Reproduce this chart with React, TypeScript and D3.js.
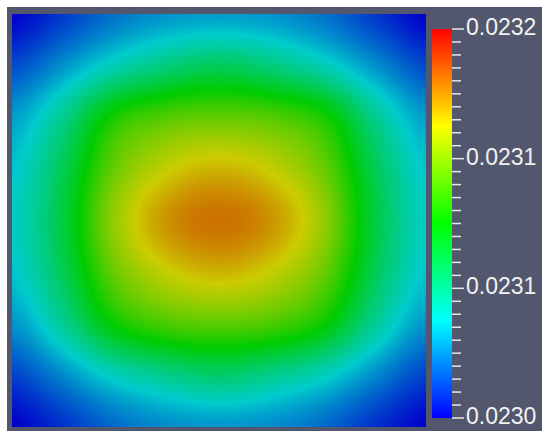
import React, { useMemo } from "react";
import * as d3 from "d3";

// Colour range of the scalar field (colour bar limits)
const rangeMin = 0.023;
const rangeMax = 0.0232;
const majorTickCount = 4;
const minorPerMajor = 10;

// Scalar field sampled on a 9 x 9 grid (rows top -> bottom, columns left -> right)
const row0 = [0.023, 0.023014, 0.023028, 0.023036, 0.023038, 0.023036, 0.023028, 0.023014, 0.023];
const row1 = [0.023018, 0.023036, 0.023056, 0.02307, 0.023078, 0.02307, 0.023056, 0.023036, 0.023018];
const row2 = [0.023038, 0.023066, 0.023106, 0.02312, 0.023124, 0.02312, 0.023106, 0.023066, 0.023038];
const row3 = [0.023048, 0.02308, 0.023126, 0.023148, 0.023156, 0.023148, 0.023126, 0.02308, 0.023048];
const row4 = [0.023052, 0.023085, 0.023137, 0.023164, 0.023172, 0.023164, 0.023137, 0.023085, 0.023052];
const row5 = [0.023048, 0.02308, 0.023126, 0.023148, 0.023156, 0.023148, 0.023126, 0.02308, 0.023048];
const row6 = [0.023036, 0.023064, 0.023102, 0.023118, 0.023122, 0.023118, 0.023102, 0.023064, 0.023036];
const row7 = [0.023016, 0.023034, 0.023054, 0.023066, 0.023074, 0.023066, 0.023054, 0.023034, 0.023016];
const row8 = [0.023, 0.023012, 0.023026, 0.023034, 0.023036, 0.023034, 0.023026, 0.023012, 0.023];
const field = [row0, row1, row2, row3, row4, row5, row6, row7, row8];

const W = 550;
const H = 441;
const panel = { x: 7, y: 7, w: 535, h: 424 };
const plot = { x0: 12, x1: 426, y0: 14, y1: 427 };
const bar = { x: 432, w: 20, y0: 29, y1: 418 };

function hsvToRgb(h: number, s: number, v: number): [number, number, number] {
  const c = v * s;
  const hp = (h % 360) / 60;
  const x = c * (1 - Math.abs((hp % 2) - 1));
  let r = 0, g = 0, b = 0;
  if (hp < 1) { r = c; g = x; }
  else if (hp < 2) { r = x; g = c; }
  else if (hp < 3) { g = c; b = x; }
  else if (hp < 4) { g = x; b = c; }
  else if (hp < 5) { r = x; b = c; }
  else { r = c; b = x; }
  const m = v - c;
  return [(r + m) * 255, (g + m) * 255, (b + m) * 255];
}

const tScale = d3.scaleLinear().domain([rangeMin, rangeMax]).range([0, 1]).clamp(true);
const rainbow = (t: number, bright = 1) => hsvToRgb(240 * (1 - t), 1, bright);

function cubic(p0: number, p1: number, p2: number, p3: number, t: number) {
  return (
    p1 +
    0.5 * t * (p2 - p0 + t * (2 * p0 - 5 * p1 + 4 * p2 - p3 + t * (3 * (p1 - p2) + p3 - p0)))
  );
}

function sampleField(gx: number, gy: number) {
  const n = field.length;
  const m = field[0].length;
  const ix = Math.min(Math.floor(gx), m - 2);
  const iy = Math.min(Math.floor(gy), n - 2);
  const fx = gx - ix;
  const fy = gy - iy;
  const cl = (v: number, hi: number) => Math.max(0, Math.min(hi, v));
  const rows: number[] = [];
  for (let k = -1; k <= 2; k++) {
    const r = field[cl(iy + k, n - 1)];
    rows.push(cubic(r[cl(ix - 1, m - 1)], r[ix], r[ix + 1], r[cl(ix + 2, m - 1)], fx));
  }
  return cubic(rows[0], rows[1], rows[2], rows[3], fy);
}

export default function App() {
  const xScale = d3.scaleLinear().domain([0, field[0].length - 1]).range([plot.x0, plot.x1]);
  const yScale = d3.scaleLinear().domain([0, field.length - 1]).range([plot.y0, plot.y1]);
  const barScale = d3.scaleLinear().domain([rangeMin, rangeMax]).range([bar.y1, bar.y0]);
  const fmt = d3.format(".4f");

  const url = useMemo(() => {
    const pw = Math.round(plot.x1 - plot.x0);
    const ph = Math.round(plot.y1 - plot.y0);
    const canvas = document.createElement("canvas");
    canvas.width = pw;
    canvas.height = ph;
    const ctx = canvas.getContext("2d");
    if (!ctx) return "";
    const img = ctx.createImageData(pw, ph);
    for (let py = 0; py < ph; py++) {
      const gy = yScale.invert(plot.y0 + py + 0.5);
      for (let px = 0; px < pw; px++) {
        const gx = xScale.invert(plot.x0 + px + 0.5);
        const v = sampleField(Math.max(0, gx), Math.max(0, gy));
        const [r, g, b] = rainbow(tScale(v), 0.8);
        const o = (py * pw + px) * 4;
        img.data[o] = r;
        img.data[o + 1] = g;
        img.data[o + 2] = b;
        img.data[o + 3] = 255;
      }
    }
    ctx.putImageData(img, 0, 0);
    return canvas.toDataURL();
  }, []);

  const stops = d3.range(0, 1.0001, 0.05);
  const majors = d3.range(majorTickCount).map(
    (i) => rangeMin + (i * (rangeMax - rangeMin)) / (majorTickCount - 1)
  );
  const nMinor = (majorTickCount - 1) * minorPerMajor;
  const minors = d3.range(nMinor + 1).map((i) => rangeMin + (i * (rangeMax - rangeMin)) / nMinor);

  return (
    <svg
      width={W}
      height={H}
      style={{ position: "absolute", left: 0, top: 0, background: "#ffffff" }}
    >
      <defs>
        <linearGradient id="cbar" x1="0" y1="1" x2="0" y2="0">
          {stops.map((t) => {
            const [r, g, b] = rainbow(t);
            return <stop key={t} offset={t} stopColor={`rgb(${r},${g},${b})`} />;
          })}
        </linearGradient>
      </defs>
      <rect x={panel.x} y={panel.y} width={panel.w} height={panel.h} fill="#52576e" />
      {url && (
        <image
          href={url}
          x={plot.x0}
          y={plot.y0}
          width={plot.x1 - plot.x0}
          height={plot.y1 - plot.y0}
          preserveAspectRatio="none"
        />
      )}
      <rect x={bar.x} y={bar.y0} width={bar.w} height={bar.y1 - bar.y0} fill="url(#cbar)" />
      {minors.map((v, i) => (
        <line
          key={"m" + i}
          x1={bar.x + bar.w}
          x2={bar.x + bar.w + (i % minorPerMajor === 0 ? 12 : 9)}
          y1={barScale(v)}
          y2={barScale(v)}
          stroke="#e6e6e6"
          strokeWidth={1.5}
        />
      ))}
      {majors.map((v, i) => (
        <text
          key={"t" + i}
          x={466}
          y={barScale(v) + 6}
          fill="#f2f2f2"
          fontFamily="'Liberation Sans', Arial, sans-serif"
          fontSize={23}
        >
          {fmt(v)}
        </text>
      ))}
    </svg>
  );
}
